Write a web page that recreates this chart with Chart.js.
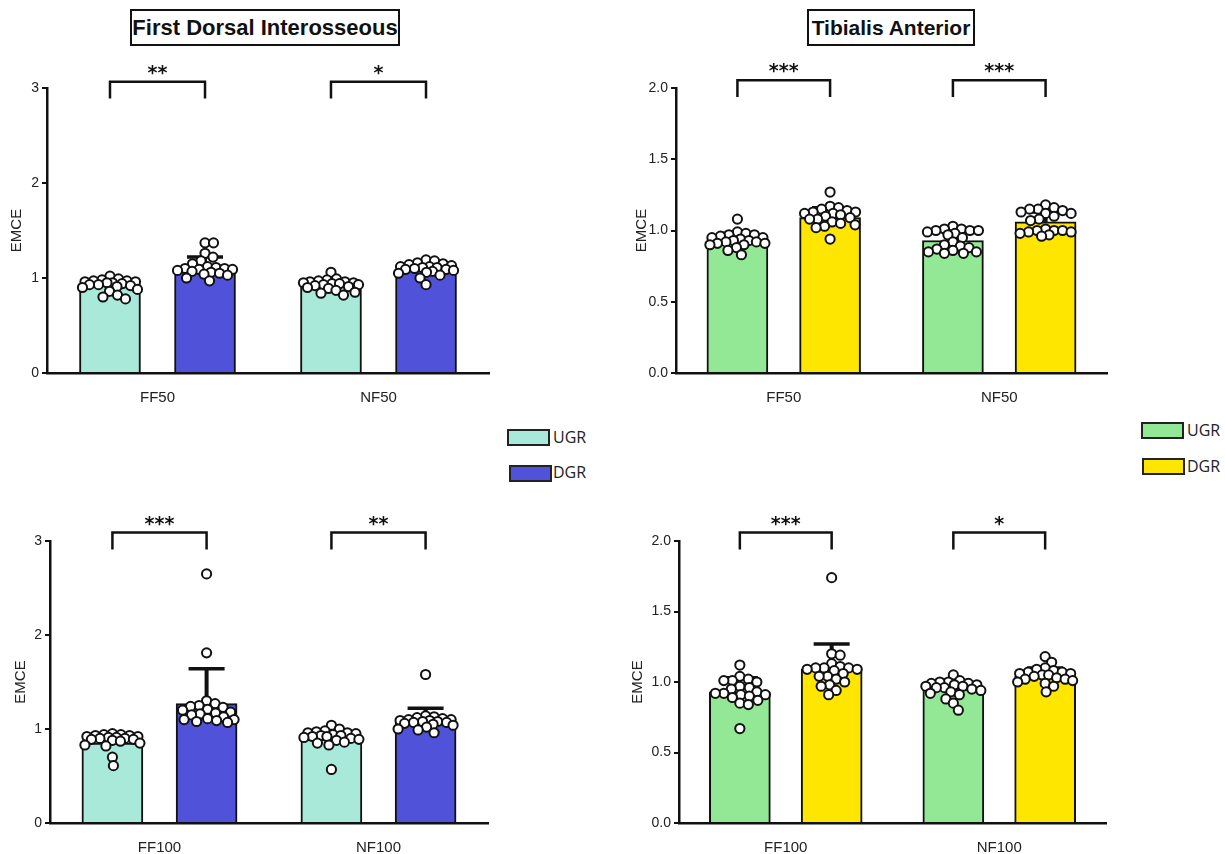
<!DOCTYPE html>
<html>
<head>
<meta charset="utf-8">
<script src="https://cdn.jsdelivr.net/npm/chart.js@4.4.1/dist/chart.umd.min.js"></script>
<style>
  body { margin: 0; background: #fff; width: 1225px; height: 854px; position: relative; overflow: hidden; font-family: "Liberation Sans", Arial, sans-serif; }
  canvas { position: absolute; }
  .title { position: absolute; top: 9px; height: 37px; box-sizing: border-box; border: 2px solid #111; font-weight: bold; font-size: 22px; line-height: 33px; text-align: center; color: #111; white-space: nowrap; }
  .sw { position: absolute; width: 43px; height: 17px; box-sizing: border-box; border: 2px solid #222; }
  .lt { position: absolute; font-family: "Open Sans", sans-serif; font-size: 16px; color: #222; line-height: 20px; }
</style>
</head>
<body>
<div class="title" style="left:130px;width:270px">First Dorsal Interosseous</div>
<div class="title" style="left:807px;width:168px;font-size:21px">Tibialis Anterior</div>

<canvas id="fdi50" width="500" height="360" style="left:0;top:50px"></canvas>
<canvas id="ta50" width="495" height="360" style="left:625px;top:50px"></canvas>
<canvas id="fdi100" width="496" height="364" style="left:4px;top:490px"></canvas>
<canvas id="ta100" width="499" height="364" style="left:621px;top:490px"></canvas>

<div class="sw" style="left:507px;top:429px;background:#a9e9d9"></div>
<div class="lt" style="left:553px;top:427px">UGR</div>
<div class="sw" style="left:509px;top:465px;background:#5052d9"></div>
<div class="lt" style="left:553px;top:462px">DGR</div>

<div class="sw" style="left:1141px;top:422px;background:#92e894"></div>
<div class="lt" style="left:1187px;top:420px">UGR</div>
<div class="sw" style="left:1142px;top:458px;background:#ffe600"></div>
<div class="lt" style="left:1187px;top:456px">DGR</div>

<script>
// categories
const categories50 = ['FF50', 'NF50'];
const categories100 = ['FF100', 'NF100'];

// bar means and SD
const fdiUgrMean50 = [0.93, 0.93];
const fdiUgrSd50 = [0.04, 0.05];
const fdiDgrMean50 = [1.10, 1.09];
const fdiDgrSd50 = [0.12, 0.06];

const taUgrMean50 = [0.92, 0.93];
const taUgrSd50 = [0.06, 0.07];
const taDgrMean50 = [1.09, 1.06];
const taDgrSd50 = [0.07, 0.07];

const fdiUgrMean100 = [0.85, 0.89];
const fdiUgrSd100 = [0.08, 0.10];
const fdiDgrMean100 = [1.27, 1.10];
const fdiDgrSd100 = [0.37, 0.12];

const taUgrMean100 = [0.93, 0.95];
const taUgrSd100 = [0.10, 0.06];
const taDgrMean100 = [1.09, 1.04];
const taDgrSd100 = [0.18, 0.06];

// individual subjects
const fdiUgrFF50 = [1.02, 0.99, 0.98, 0.97, 0.97, 0.96, 0.96, 0.95, 0.95, 0.94, 0.93, 0.93, 0.92, 0.91, 0.90, 0.88, 0.86, 0.82, 0.80, 0.78];
const fdiDgrFF50 = [1.37, 1.37, 1.26, 1.22, 1.18, 1.15, 1.12, 1.11, 1.10, 1.10, 1.09, 1.09, 1.08, 1.07, 1.06, 1.05, 1.04, 1.03, 1.00, 0.97];
const fdiUgrNF50 = [1.06, 0.99, 0.98, 0.97, 0.96, 0.96, 0.95, 0.95, 0.94, 0.94, 0.93, 0.93, 0.92, 0.91, 0.90, 0.89, 0.87, 0.85, 0.84, 0.82];
const fdiDgrNF50 = [1.19, 1.18, 1.16, 1.15, 1.14, 1.13, 1.12, 1.12, 1.11, 1.11, 1.10, 1.09, 1.09, 1.08, 1.07, 1.06, 1.05, 1.03, 1.00, 0.93];

const taUgrFF50 = [1.08, 0.99, 0.98, 0.97, 0.97, 0.96, 0.95, 0.95, 0.94, 0.93, 0.93, 0.92, 0.92, 0.91, 0.91, 0.90, 0.90, 0.88, 0.86, 0.83];
const taDgrFF50 = [1.27, 1.17, 1.16, 1.15, 1.14, 1.13, 1.13, 1.12, 1.12, 1.11, 1.10, 1.09, 1.08, 1.08, 1.06, 1.05, 1.04, 1.03, 1.02, 0.94];
const taUgrNF50 = [1.03, 1.01, 1.01, 1.00, 1.00, 1.00, 0.99, 0.98, 0.97, 0.95, 0.92, 0.90, 0.89, 0.88, 0.87, 0.86, 0.85, 0.85, 0.84, 0.84];
const taDgrNF50 = [1.18, 1.16, 1.15, 1.15, 1.14, 1.13, 1.12, 1.12, 1.10, 1.08, 1.07, 1.01, 1.00, 1.00, 1.00, 0.99, 0.99, 0.98, 0.97, 0.96];

const fdiUgrFF100 = [0.95, 0.94, 0.94, 0.93, 0.93, 0.92, 0.92, 0.91, 0.91, 0.90, 0.90, 0.89, 0.89, 0.88, 0.87, 0.85, 0.83, 0.82, 0.70, 0.61];
const fdiDgrFF100 = [2.65, 1.81, 1.30, 1.27, 1.25, 1.24, 1.23, 1.21, 1.20, 1.18, 1.17, 1.16, 1.15, 1.13, 1.11, 1.10, 1.10, 1.09, 1.08, 1.07];
const fdiUgrNF100 = [1.04, 1.00, 0.98, 0.97, 0.96, 0.96, 0.95, 0.94, 0.93, 0.93, 0.92, 0.92, 0.91, 0.90, 0.89, 0.88, 0.86, 0.85, 0.83, 0.57];
const fdiDgrNF100 = [1.58, 1.14, 1.13, 1.12, 1.11, 1.10, 1.10, 1.09, 1.09, 1.08, 1.08, 1.07, 1.07, 1.06, 1.05, 1.04, 1.02, 1.00, 0.99, 0.96];

const taUgrFF100 = [1.12, 1.04, 1.02, 1.01, 1.01, 1.00, 0.97, 0.96, 0.95, 0.93, 0.92, 0.92, 0.91, 0.91, 0.90, 0.89, 0.87, 0.85, 0.84, 0.67];
const taDgrFF100 = [1.74, 1.20, 1.19, 1.13, 1.11, 1.10, 1.10, 1.10, 1.09, 1.09, 1.08, 1.06, 1.04, 1.04, 1.02, 1.00, 0.98, 0.97, 0.94, 0.91];
const taUgrNF100 = [1.05, 1.01, 1.00, 1.00, 0.99, 0.99, 0.98, 0.98, 0.97, 0.97, 0.96, 0.96, 0.95, 0.94, 0.93, 0.92, 0.91, 0.88, 0.85, 0.80];
const taDgrNF100 = [1.18, 1.14, 1.10, 1.09, 1.08, 1.07, 1.07, 1.06, 1.06, 1.05, 1.05, 1.04, 1.03, 1.02, 1.02, 1.01, 1.00, 0.99, 0.97, 0.93];

// significance
const fdiStars50 = ['**', '*'];
const taStars50 = ['***', '***'];
const fdiStars100 = ['***', '**'];
const taStars100 = ['***', '*'];

Chart.defaults.font.family = '"Liberation Sans", Arial, sans-serif';

// bars sit either side of the category centre (fraction of one category)
const BAR_SHIFT = 0.215;

// upward SD bars with a cap, drawn right after each bar dataset
const errorBarPlugin = {
    id: 'errorBars',
    afterDatasetDraw(chart, args) {
        const ds = chart.data.datasets[args.index];
        if (!ds.sd) return;
        const y = chart.scales.y;
        const c = chart.ctx;
        c.save();
        c.strokeStyle = '#111';
        args.meta.data.forEach((bar, k) => {
            const yTop = y.getPixelForValue(ds.data[k].y + ds.sd[k]);
            c.lineWidth = 4;
            c.beginPath();
            c.moveTo(bar.x, bar.y);
            c.lineTo(bar.x, yTop);
            c.stroke();
            c.lineWidth = 3.5;
            c.beginPath();
            c.moveTo(bar.x - 18, yTop);
            c.lineTo(bar.x + 18, yTop);
            c.stroke();
        });
        c.restore();
    }
};

// significance brackets between the two bars of each category
const bracketPlugin = {
    id: 'brackets',
    afterDatasetsDraw(chart, args, o) {
        if (!o.stars) return;
        const y = chart.scales.y;
        const m0 = chart.getDatasetMeta(0), m1 = chart.getDatasetMeta(1);
        const c = chart.ctx;
        c.save();
        c.strokeStyle = '#111';
        c.fillStyle = '#111';
        c.lineWidth = 2.5;
        c.font = 'bold 19px "DejaVu Sans"';
        c.textAlign = 'center';
        c.textBaseline = 'alphabetic';
        o.stars.forEach((s, k) => {
            const x1 = m0.data[k].x, x2 = m1.data[k].x;
            const yt = y.getPixelForValue(o.top), yb = y.getPixelForValue(o.tip);
            c.beginPath();
            c.moveTo(x1, yb);
            c.lineTo(x1, yt);
            c.lineTo(x2, yt);
            c.lineTo(x2, yb);
            c.stroke();
            c.fillText(s, (x1 + x2) / 2, yt - 3);
        });
        c.restore();
    }
};

// spread the dots sideways over their bar (simple beeswarm in pixel space)
function placeSwarm(chart) {
    const x = chart.scales.x, y = chart.scales.y;
    chart.data.datasets.forEach(ds => {
        if (!ds.values) return;
        const bar = chart.getDatasetMeta(ds.barIndex).data[ds.cat];
        const lim = bar.width / 2 - 3;
        const placed = [];
        ds.data = ds.values.map(v => {
            const py = y.getPixelForValue(v);
            let pick = 0, bestGap = -1;
            for (let i = 0; ; i++) {
                const off = (i % 2 ? 1 : -1) * Math.ceil(i / 2) * 0.5;
                if (Math.abs(off) > lim) break;
                let gap = Infinity;
                placed.forEach(p => { gap = Math.min(gap, Math.hypot(p[0] - off, p[1] - py)); });
                if (gap >= 8.5) { pick = off; break; }
                if (gap > bestGap) { bestGap = gap; pick = off; }
            }
            placed.push([pick, py]);
            return { x: x.getValueForPixel(bar.x + pick), y: v };
        });
    });
    chart.update('none');
}

function makePanel(id, p) {
    const datasets = [
        { label: 'UGR', data: p.ugrMean.map((v, i) => ({ x: i - BAR_SHIFT, y: v })), sd: p.ugrSd, backgroundColor: p.colors[0] },
        { label: 'DGR', data: p.dgrMean.map((v, i) => ({ x: i + BAR_SHIFT, y: v })), sd: p.dgrSd, backgroundColor: p.colors[1] }
    ].map(d => Object.assign(d, {
        type: 'bar', borderColor: '#111', borderWidth: 2, order: 1,
        grouped: false, barThickness: 61
    }));

    p.points.forEach((vals, i) => {
        datasets.push({
            type: 'scatter', data: [], values: vals,
            barIndex: i % 2, cat: Math.floor(i / 2), order: 0,
            pointRadius: 4.6, borderWidth: 2, backgroundColor: '#fff', borderColor: '#111'
        });
    });

    const chart = new Chart(document.getElementById(id), {
        type: 'scatter',
        data: { datasets },
        options: {
            responsive: false,
            animation: false,
            events: [],
            layout: { padding: { top: p.padTop, right: p.padRight, left: 0, bottom: 0 } },
            plugins: {
                legend: { display: false },
                tooltip: { enabled: false },
                brackets: { top: p.bracketTop, tip: p.bracketTip, stars: p.stars }
            },
            scales: {
                x: {
                    type: 'linear', min: -0.5, max: 1.5, offset: false,
                    afterBuildTicks: s => { s.ticks = p.categories.map((c, i) => ({ value: i })); },
                    grid: { display: false, offset: false },
                    border: { display: true, color: '#111', width: 2.5 },
                    ticks: { color: '#222', font: { size: 15 }, padding: 8, autoSkip: false, maxRotation: 0, callback: v => p.categories[v] },
                    afterFit: s => { s.height = p.xHeight; }
                },
                y: {
                    type: 'linear', min: 0, max: p.yMax,
                    ticks: {
                        stepSize: p.yStep, color: '#222', font: { size: 14 }, padding: 3,
                        callback: v => p.yStep < 1 ? v.toFixed(1) : String(v)
                    },
                    grid: { drawOnChartArea: false, drawTicks: true, tickLength: 5, color: '#111', lineWidth: 2 },
                    border: { display: true, color: '#111', width: 2.5 },
                    title: { display: true, text: 'EMCE', color: '#222', font: { size: 15 }, padding: { top: 8, bottom: 0 } },
                    afterFit: s => { s.width = p.yWidth; }
                }
            }
        },
        plugins: [errorBarPlugin, bracketPlugin]
    });
    placeSwarm(chart);
    return chart;
}

const fdiColors = ['#a9e9d9', '#5052d9'];
const taColors = ['#92e894', '#ffe600'];

makePanel('fdi50', {
    categories: categories50, colors: fdiColors,
    ugrMean: fdiUgrMean50, ugrSd: fdiUgrSd50, dgrMean: fdiDgrMean50, dgrSd: fdiDgrSd50,
    points: [fdiUgrFF50, fdiDgrFF50, fdiUgrNF50, fdiDgrNF50],
    stars: fdiStars50, bracketTop: 3.065, bracketTip: 2.89,
    yMax: 3, yStep: 1, padTop: 38, padRight: 11, yWidth: 47, xHeight: 37
});

makePanel('ta50', {
    categories: categories50, colors: taColors,
    ugrMean: taUgrMean50, ugrSd: taUgrSd50, dgrMean: taDgrMean50, dgrSd: taDgrSd50,
    points: [taUgrFF50, taDgrFF50, taUgrNF50, taDgrNF50],
    stars: taStars50, bracketTop: 2.054, bracketTip: 1.937,
    yMax: 2, yStep: 0.5, padTop: 38, padRight: 13, yWidth: 51, xHeight: 37
});

makePanel('fdi100', {
    categories: categories100, colors: fdiColors,
    ugrMean: fdiUgrMean100, ugrSd: fdiUgrSd100, dgrMean: fdiDgrMean100, dgrSd: fdiDgrSd100,
    points: [fdiUgrFF100, fdiDgrFF100, fdiUgrNF100, fdiDgrNF100],
    stars: fdiStars100, bracketTop: 3.09, bracketTip: 2.91,
    yMax: 3, yStep: 1, padTop: 51, padRight: 12, yWidth: 46, xHeight: 31
});

makePanel('ta100', {
    categories: categories100, colors: taColors,
    ugrMean: taUgrMean100, ugrSd: taUgrSd100, dgrMean: taDgrMean100, dgrSd: taDgrSd100,
    points: [taUgrFF100, taDgrFF100, taUgrNF100, taDgrNF100],
    stars: taStars100, bracketTop: 2.06, bracketTip: 1.94,
    yMax: 2, yStep: 0.5, padTop: 51, padRight: 14, yWidth: 58, xHeight: 31
});
</script>
</body>
</html>
